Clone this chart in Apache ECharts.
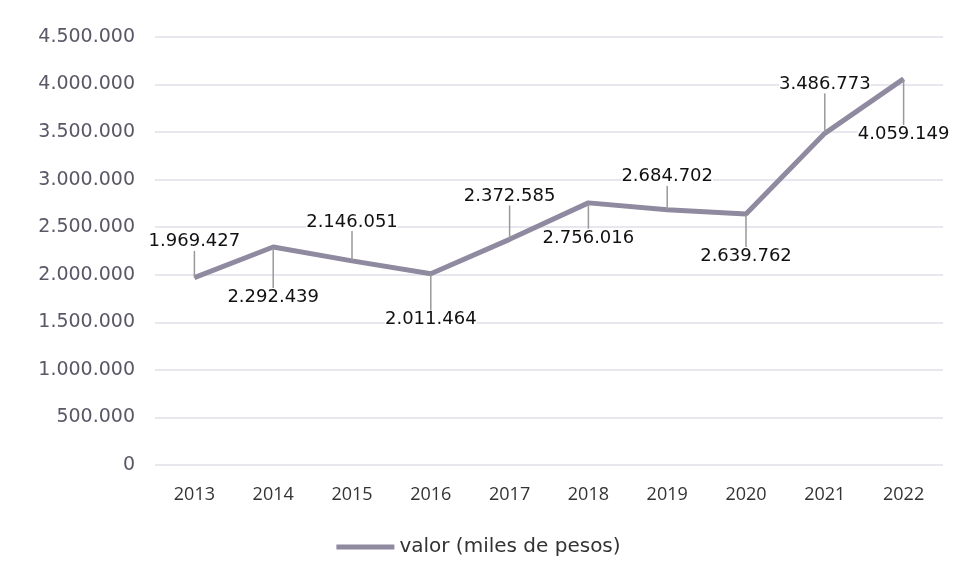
<!DOCTYPE html>
<html>
<head>
<meta charset="utf-8">
<script src="https://cdn.jsdelivr.net/npm/echarts@6/dist/echarts.min.js"></script>
<style>
    html, body { margin: 0; padding: 0; background: #fff; }
    #chart { width: 957px; height: 584px; }
</style>
</head>
<body>
<div id="chart"></div>
<script>
    const years = ['2013', '2014', '2015', '2016', '2017', '2018', '2019', '2020', '2021', '2022'];
    const valores = [1969427, 2292439, 2146051, 2011464, 2372585, 2756016, 2684702, 2639762, 3486773, 4059149];
    // labels alternate above / below the line
    const labelShift = [-36, 50, -39, 46, -43, 35, -33, 42, -49, 55];

    const chart = echarts.init(document.getElementById('chart'));

    function puntos (n) {
        return String(n).replace(/\B(?=(\d{3})+(?!\d))/g, '.');
    }

    chart.setOption({
        textStyle: { fontFamily: 'DejaVu Sans' },
        grid: { left: 155, right: 14, top: 37, bottom: 119 },
        legend: {
            bottom: 22,
            left: 'center',
            itemWidth: 58,
            itemHeight: 5,
            itemGap: 4,
            icon: 'rect',
            textStyle: { fontSize: 20, color: '#333', fontFamily: 'DejaVu Sans' },
            data: ['valor (miles de pesos)']
        },
        xAxis: {
            type: 'category',
            data: years,
            boundaryGap: true,
            axisLine: { show: false },
            axisTick: { show: false },
            axisLabel: { fontSize: 18, color: '#333', margin: 21, fontFamily: 'Open Sans' }
        },
        yAxis: {
            type: 'value',
            min: 0,
            max: 4500000,
            interval: 500000,
            axisLabel: {
                fontSize: 19,
                color: '#5a5766',
                margin: 20,
                formatter: v => puntos(v)
            },
            splitLine: { lineStyle: { color: '#dfe1ea', width: 1.5 } }
        },
        series: [
            {
                name: 'valor (miles de pesos)',
                type: 'line',
                data: valores,
                symbol: 'circle',
                symbolSize: 1,
                showSymbol: true,
                lineStyle: { color: '#8f8a9f', width: 5 },
                itemStyle: { color: '#8f8a9f' },
                label: {
                    show: true,
                    position: 'inside',
                    fontSize: 18,
                    color: '#111',
                    backgroundColor: '#fff',
                    formatter: p => puntos(p.value)
                },
                labelLayout: p => ({ dy: labelShift[p.dataIndex] }),
                labelLine: {
                    show: true,
                    lineStyle: { color: '#999', width: 1.5 }
                }
            }
        ]
    });
</script>
</body>
</html>
